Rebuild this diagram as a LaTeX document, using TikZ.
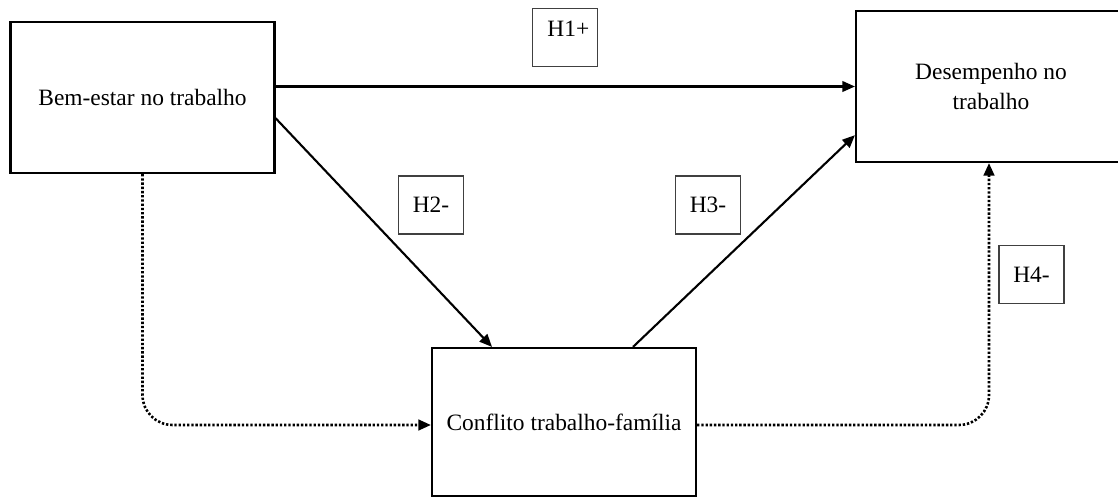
\documentclass[tikz,border=0pt]{standalone}
\usepackage{fontspec}
\setmainfont{Liberation Serif}
\usetikzlibrary{arrows.meta}
\tikzstyle{construct} = [rectangle, minimum width=3.96cm, minimum height=2.265cm, align=center, draw=black, line width=0.9pt, fill=none, font=\fontsize{10}{12.4}\selectfont]
\tikzstyle{hyp} = [rectangle, minimum width=0.975cm, minimum height=0.87cm, inner sep=0pt, text centered, draw=black!75, line width=0.45pt, fill=none, font=\fontsize{10}{12}\selectfont]
\tikzstyle{arrow} = [line width=0.9pt, -{Triangle[length=1.9mm, width=1.6mm]}]
\tikzstyle{dotarrow} = [arrow, line width=1.1pt, dash pattern=on 1pt off 0.8pt, rounded corners=0.45cm]

\begin{document}
\begin{tikzpicture}[x=0.015cm, y=-0.015cm]
					\useasboundingbox (0,0) rectangle (1118,499);
					\node[construct] (bem) at (142.5,97.5) {Bem-estar no trabalho};
					\node[construct, minimum width=4.05cm] (desemp) at (991,86.5) {Desempenho no\\trabalho};
					\node[construct, minimum height=2.22cm] (conflito) at (564,422) {Conflito trabalho-família};
					\node[hyp, minimum height=0pt, text height=0.42cm, text depth=0.45cm, anchor=north] (h1) at (565,8) {\hspace{0.1cm}H1+};
					\node[hyp] (h2) at (431,205) {H2-};
					\node[hyp] (h3) at (708,205) {H3-};
					\node[hyp] (h4) at (1031.5,274.5) {H4-};
					\draw[arrow] (desemp.west -| bem.east) -- (desemp.west);
					\draw[arrow] ([yshift=-0.31cm]bem.east) -- ([xshift=-1.08cm]conflito.north);
					\draw[arrow] ([xshift=1.035cm]conflito.north) -- ([yshift=-0.73cm]desemp.west);
					\draw[dotarrow] (bem.south) |- ([yshift=-0.045cm]conflito.west);
					\draw[dotarrow] ([yshift=-0.045cm]conflito.east) -| ([xshift=-0.03cm]desemp.south);
					\end{tikzpicture}
\end{document}
